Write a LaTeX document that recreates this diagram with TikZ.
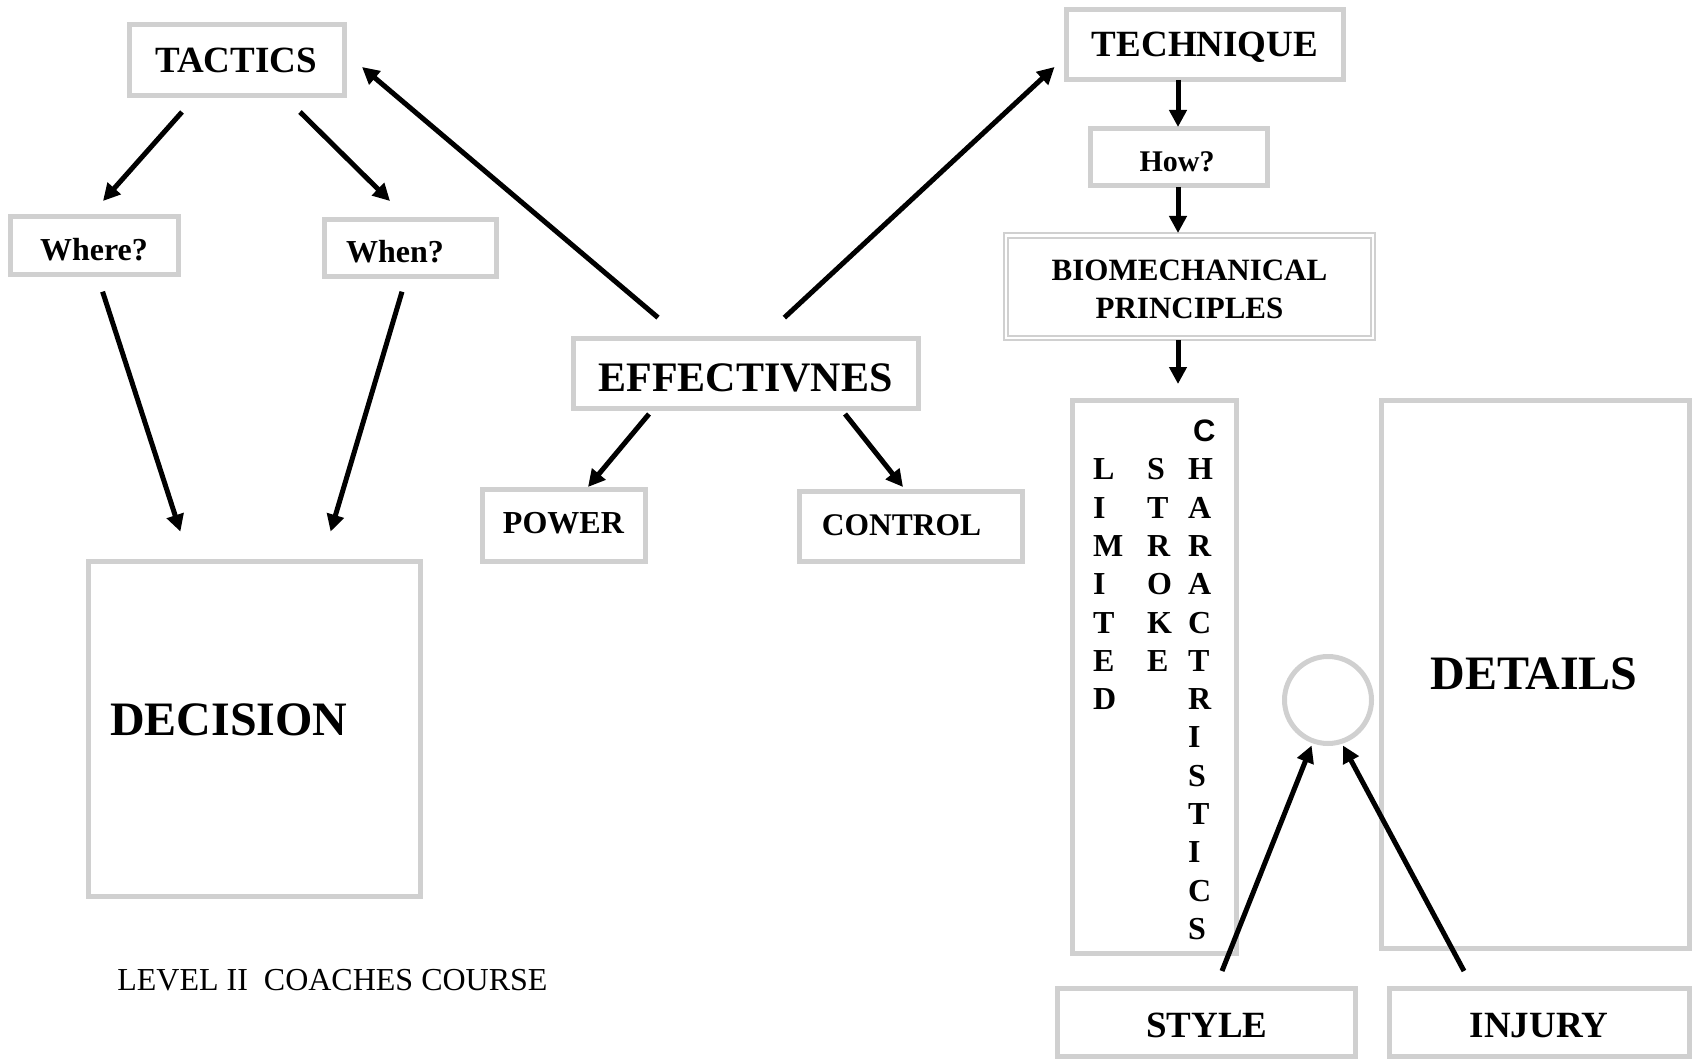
\documentclass[tikz,border=0pt]{standalone}
\usepackage{fontspec}
\setmainfont{Liberation Serif}
\newfontfamily\arialfam{Liberation Sans}
\usetikzlibrary{arrows.meta}
\definecolor{boxgray}{RGB}{208,208,208}
\newcommand\myfs[1]{\fontsize{#1pt}{#1pt}\selectfont}
\begin{document}
\begin{tikzpicture}[x=1pt,y=-1pt,
  box/.style={draw=boxgray,line width=5pt,inner sep=0pt,outer sep=0pt},
  lbl/.style={inner sep=0pt,outer sep=0pt,anchor=base},
  arr/.style={line width=5pt,-{Triangle[length=17pt,width=17pt]}},
  letter/.style={inner sep=0pt,outer sep=0pt,anchor=base west,font=\myfs{32}\bfseries},
  ]
\useasboundingbox[fill=white] (0,0) rectangle (1694,1059);

% left branch
\node[box,minimum width=215pt,minimum height=71pt] (tactics) at (237,60) {};
\node[lbl,font=\myfs{37}\bfseries] (tacticstext) at (236,73) {TACTICS};
\node[box,minimum width=168pt,minimum height=58pt] (where) at (94.7,245.5) {};
\node[lbl,font=\myfs{32}\bfseries] (wheretext) at (94,261) {Where?};
\node[box,minimum width=172pt,minimum height=57pt] (when) at (410.5,248) {};
\node[lbl,font=\myfs{32}\bfseries] (whentext) at (395,262) {When?};
\node[box,minimum width=332pt,minimum height=335pt] (decision) at (254.5,729) {};
\node[lbl,anchor=base west,font=\myfs{48}\bfseries] (decisiontext) at (110,735) {DECISION};
\node[lbl,anchor=base west,font=\myfs{32}] (level) at (117.3,990) {LEVEL II\ \ COACHES COURSE};

% centre
\node[box,minimum width=345pt,minimum height=69.5pt] (eff) at (745.5,373.25) {};
\node[lbl,font=\myfs{42}\bfseries] (efftext) at (745.5,391) {EFFECTIVNES};
\node[box,minimum width=163.5pt,minimum height=72pt] (power) at (564,525.5) {};
\node[lbl,font=\myfs{32}\bfseries] (powertext) at (563.4,533) {POWER};
\node[box,minimum width=223pt,minimum height=70pt] (control) at (911,526.5) {};
\node[lbl,font=\myfs{31.5}\bfseries] (controltext) at (901.6,535) {CONTROL};

% right branch
\node[box,minimum width=277pt,minimum height=70pt] (technique) at (1205,44.5) {};
\node[lbl,font=\myfs{37}\bfseries] (techniquetext) at (1205,57) {TECHNIQUE};
\node[box,minimum width=177pt,minimum height=57pt] (how) at (1179,157) {};
\node[lbl,font=\myfs{30}\bfseries] (howtext) at (1177,172) {How?};
\node[draw=boxgray,line width=2pt,double=white,double distance=2.5pt,inner sep=0pt,outer sep=0pt,
      minimum width=367.3pt,minimum height=102.6pt] (bio) at (1189.5,286.85) {};
\node[lbl,font=\myfs{31}\bfseries] (bioA) at (1189.5,280) {BIOMECHANICAL};
\node[lbl,font=\myfs{31}\bfseries] (bioB) at (1189.5,318) {PRINCIPLES};
\node[box,minimum width=164.6pt,minimum height=553.5pt] (lsc) at (1154.4,676.75) {};
\node[box,minimum width=308.5pt,minimum height=548pt] (details) at (1535.3,674) {};
\node[lbl,font=\myfs{48}\bfseries] (detailstext) at (1534,689) {DETAILS};
\node[draw=boxgray,line width=5pt,circle,minimum size=87pt,inner sep=0pt,outer sep=0pt] (ring) at (1328,700) {};
\node[box,minimum width=298.5pt,minimum height=68pt] (style) at (1206.25,1022.5) {};
\node[lbl,font=\myfs{37}\bfseries] (styletext) at (1207,1037) {STYLE};
\node[box,minimum width=300pt,minimum height=68pt] (injury) at (1539.5,1022.5) {};
\node[lbl,font=\myfs{37}\bfseries] (injurytext) at (1539,1037) {INJURY};

% vertical letters
\foreach \ch [count=\i from 1] in {L,I,M,I,T,E,D}
  \node[letter] (lim\i) at (1093,{441.5+\i*38.3}) {\ch};
\foreach \ch [count=\i from 1] in {S,T,R,O,K,E}
  \node[letter] (str\i) at (1147,{441.5+\i*38.3}) {\ch};
\node[letter,font=\myfs{31}\arialfam\bfseries] (cha0) at (1193,441.5) {C};
\foreach \ch [count=\i from 1] in {H,A,R,A,C,T,R,I,S,T,I,C,S}
  \node[letter] (cha\i) at (1188,{441.5+\i*38.3}) {\ch};

% connector end points
\coordinate (tw1) at (182,112);   \coordinate (tw2) at (103,201);
\coordinate (tn1) at (300,112);   \coordinate (tn2) at (390,201);
\coordinate (wd1) at (102.6,291.7); \coordinate (wd2) at (180.4,531.6);
\coordinate (nd1) at (402,291.7); \coordinate (nd2) at (330.6,531.6);
\coordinate (et1) at (658,317.6); \coordinate (et2) at (362,67);
\coordinate (eq1) at (784.4,317.6); \coordinate (eq2) at (1054.5,67);
\coordinate (ep1) at (649,414);   \coordinate (ep2) at (588,487);
\coordinate (ec1) at (845,414);   \coordinate (ec2) at (903,487);
\coordinate (qh1) at (1178,80);   \coordinate (qh2) at (1178,127);
\coordinate (hb1) at (1178,187);  \coordinate (hb2) at (1178,233);
\coordinate (bl1) at (1178,340);  \coordinate (bl2) at (1178,384);
\coordinate (sr1) at (1222,971);  \coordinate (sr2) at (1311.6,745.5);
\coordinate (ir1) at (1464,971);  \coordinate (ir2) at (1343,745.5);

\draw[arr] (tw1) -- (tw2);
\draw[arr] (tn1) -- (tn2);
\draw[arr] (wd1) -- (wd2);
\draw[arr] (nd1) -- (nd2);
\draw[arr] (et1) -- (et2);
\draw[arr] (eq1) -- (eq2);
\draw[arr] (ep1) -- (ep2);
\draw[arr] (ec1) -- (ec2);
\draw[arr] (qh1) -- (qh2);
\draw[arr] (hb1) -- (hb2);
\draw[arr] (bl1) -- (bl2);
\draw[arr] (sr1) -- (sr2);
\draw[arr] (ir1) -- (ir2);
\end{tikzpicture}
\end{document}
